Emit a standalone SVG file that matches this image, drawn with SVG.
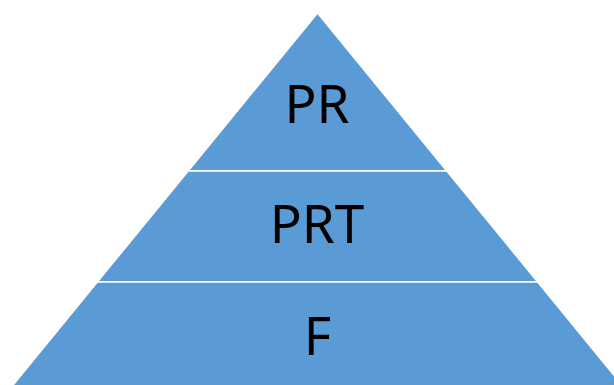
<svg xmlns="http://www.w3.org/2000/svg" width="614" height="385" viewBox="0 0 614 385">
<style>
.layer{fill:#5B9BD5;stroke:#FFFFFF;stroke-width:1.5}
.lbl{font-family:"Noto Sans","Liberation Sans",sans-serif;font-size:53px;fill:#000000;text-anchor:middle}
</style>
<rect width="614" height="385" fill="#FFFFFF"/>
<g id="layer-PR">
<polygon class="layer" points="317.5,13 446.8,171 188.2,171"/>
<text class="lbl" x="317" y="123">PR</text>
</g>
<g id="layer-PRT">
<polygon class="layer" points="188.2,171 446.8,171 537.7,282 97.3,282"/>
<text class="lbl" x="317" y="243">PRT</text>
</g>
<g id="layer-F">
<polygon class="layer" points="97.3,282 537.7,282 626,390 9,390"/>
<text class="lbl" x="317.5" y="355">F</text>
</g>
<g id="connectors"/>
</svg>
